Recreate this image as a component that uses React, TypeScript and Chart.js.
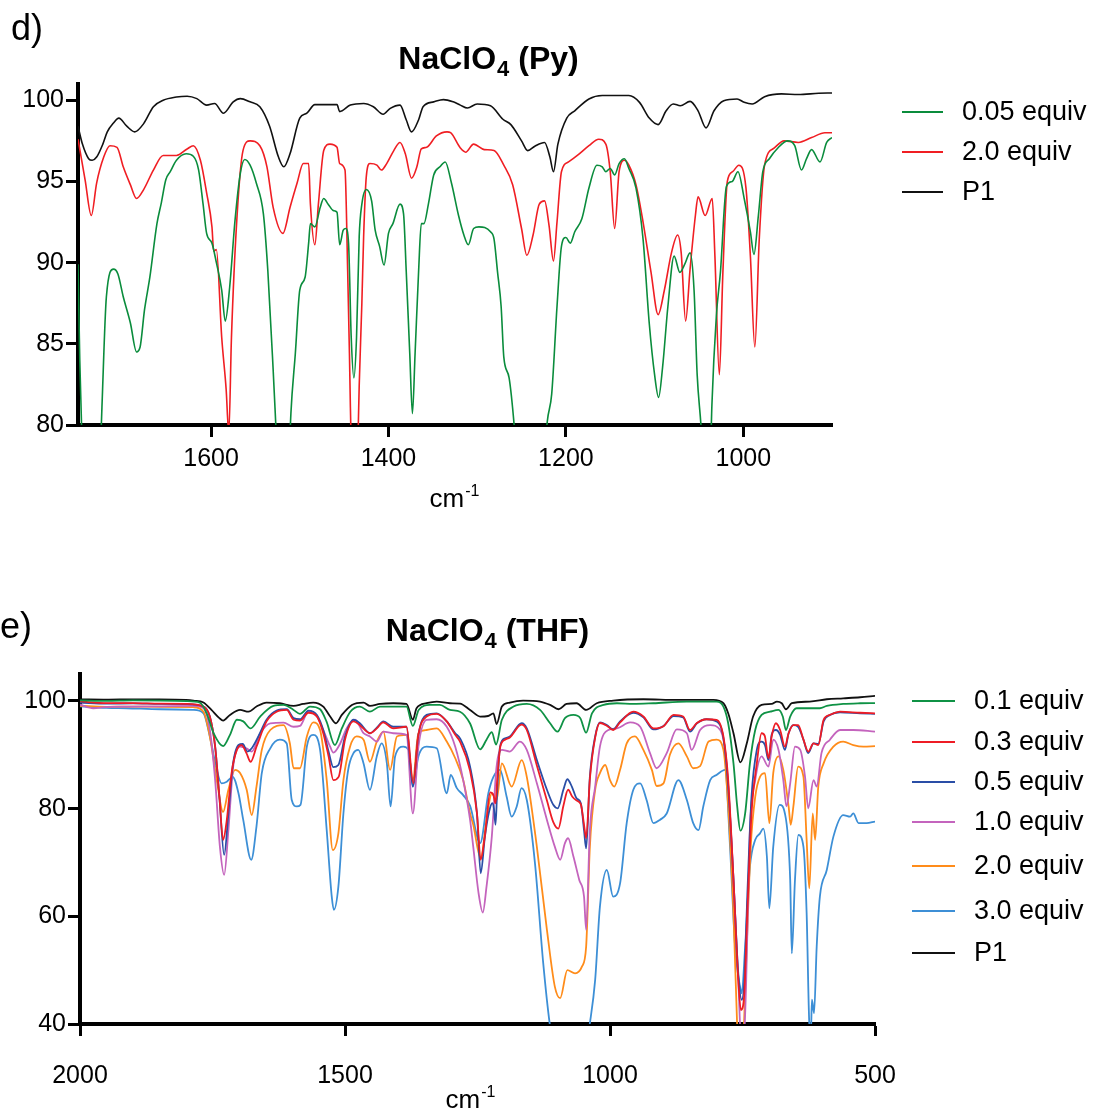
import React, { useEffect, useRef } from 'react';
import { Chart, registerables } from 'chart.js';

Chart.register(...registerables);

const FONT = '"Liberation Sans", Arial, Helvetica, sans-serif';

// ---------- Panel d: NaClO4 (Py) ----------
const PY_LABELS = ['0.05 equiv', '2.0 equiv', 'P1'];
const PY_COLORS = ['#0a8c3c', '#f01e23', '#111111'];
const PY_X_TICKS = [1600, 1400, 1200, 1000];
const PY_Y_TICKS = [80, 85, 90, 95, 100];

const PY_G: number[][] = [
  [1750, 89.9], [1748, 84], [1745, 78], [1738, 70], [1730, 72], [1725, 78], [1723, 81.1], [1718, 87.9], [1710, 89.6], [1705, 89.3],
  [1699, 87.9], [1691, 86.3], [1684, 84.5], [1680, 84.8], [1675, 87.1], [1669, 89.1], [1661, 92.4], [1656, 93.7], [1651, 95.1], [1646, 95.6],
  [1639, 96.3], [1628, 96.7], [1620, 96.55], [1614, 95.7], [1609, 93.6], [1605, 91.8], [1599, 91.2], [1594, 90.0], [1588, 88.3], [1584, 86.4],
  [1579, 88.5], [1573, 92.6], [1567, 95.5], [1562, 96.35], [1556, 96.0], [1549, 94.9], [1541, 93.0], [1536, 89.5], [1530, 83.4], [1527, 80.0],
  [1520, 72], [1514, 75], [1510, 80.7], [1505, 84.4], [1500, 88.3], [1494, 89.1], [1490, 91.2], [1488, 92.4], [1483, 92.2], [1477, 93.4],
  [1473, 93.95], [1468, 93.6], [1462, 93.2], [1458, 93.1], [1455, 91.1], [1451, 92.0], [1448, 92.1], [1445, 91.2], [1442, 85.4], [1439, 82.9],
  [1436, 85.4], [1433, 91.6], [1430, 93.6], [1425, 94.5], [1419, 93.8], [1415, 92.0], [1410, 91.0], [1405, 89.85], [1400, 91.8], [1395, 92.4],
  [1387, 93.6], [1383, 93.0], [1380, 89.5], [1376, 84.4], [1373, 80.7], [1370, 84.4], [1366, 89.5], [1363, 92.4], [1360, 92.4], [1355, 93.6],
  [1349, 95.4], [1342, 95.9], [1336, 96.2], [1329, 94.9], [1321, 92.9], [1315, 91.7], [1310, 91.1], [1304, 92.1], [1298, 92.2], [1285, 91.9],
  [1281, 91.45], [1277, 89.4], [1273, 87.3], [1270, 84.2], [1264, 82.9], [1258, 79.8], [1245, 70], [1232, 72], [1221, 80.2], [1216, 81.9],
  [1210, 87.3], [1205, 91.0], [1200, 91.55], [1195, 91.2], [1190, 91.9], [1182, 92.7], [1174, 94.6], [1165, 96.0], [1159, 95.9], [1155, 95.6],
  [1150, 95.8], [1145, 95.4], [1140, 96.1], [1134, 96.4], [1129, 95.8], [1121, 94.6], [1113, 91.45], [1106, 86.25], [1100, 83.1], [1095.5, 81.7],
  [1091, 83.55], [1085, 87.3], [1078, 90.4], [1071.5, 89.4], [1066, 89.9], [1060, 90.6], [1055.5, 88.3], [1052, 83.1], [1047.5, 79.8], [1042, 74],
  [1038, 76], [1035.4, 81.2], [1030.4, 86.7], [1025.8, 89.4], [1019, 94.7], [1012.5, 95.0], [1006, 95.6], [999, 93.95], [992, 91.9], [988, 90.5],
  [983, 92.9], [978, 95.6], [970.6, 96.4], [961, 97.06], [950, 97.5], [942, 97.2], [934.4, 95.7], [928.7, 96.4], [923, 96.96], [913.5, 96.2],
  [906, 97.4], [900, 97.7],
];

const PY_R: number[][] = [
  [1750, 97.6], [1742, 95.1], [1735, 92.9], [1729, 94.9], [1721, 96.5], [1714, 97.2], [1706, 97.1], [1699, 95.9], [1691, 94.8], [1684, 93.95],
  [1676, 94.5], [1665, 95.7], [1654, 96.6], [1639, 96.6], [1627, 97.0], [1620, 97.2], [1612, 96.3], [1605, 94.3], [1599, 92.2], [1597, 90.7],
  [1594, 90.8], [1588, 85.4], [1583, 82.2], [1580, 79.5], [1577, 85.4], [1571, 92.6], [1564, 96.9], [1556, 97.5], [1545, 97.2], [1537, 95.9],
  [1530, 93.4], [1519, 91.8], [1511, 93.4], [1503, 94.9], [1496, 96.1], [1490, 96.1], [1488, 93.6], [1483, 91.1], [1479, 93.6], [1473, 96.9],
  [1466, 97.3], [1458, 97.1], [1455, 96.1], [1449, 95.7], [1446, 89.5], [1444, 84.4], [1441, 76], [1437, 74], [1434, 80], [1433, 82.4],
  [1430, 87.5], [1428, 91.6], [1425, 95.3], [1421, 96.1], [1413, 96.0], [1408, 95.7], [1402, 96.1], [1394, 96.9], [1387, 97.4], [1381, 96.7],
  [1374, 95.2], [1368, 95.9], [1363, 97.0], [1357, 97.1], [1346, 97.8], [1334, 98.05], [1330, 98.0], [1319, 97.06], [1313, 96.8], [1304, 97.3],
  [1292, 96.96], [1281, 96.9], [1270, 96.0], [1260, 94.8], [1250, 92.1], [1244, 90.45], [1237, 91.7], [1230, 93.6], [1224, 93.8], [1219, 92.3],
  [1214, 90.1], [1210, 92.5], [1205, 95.6], [1197, 96.2], [1186, 96.65], [1174, 97.2], [1163, 97.6], [1155, 97.3], [1150, 95.6], [1145, 92.1],
  [1140, 95.6], [1134, 96.3], [1129, 96.0], [1121, 94.8], [1113, 92.5], [1104, 89.4], [1096, 86.8], [1089, 88.3], [1081, 90.6], [1074, 91.7],
  [1070, 90.6], [1065, 86.4], [1060, 89.6], [1054, 92.9], [1051, 94.05], [1043, 92.9], [1035, 93.95], [1032, 90.4], [1027, 83.1], [1023, 89.4],
  [1018, 95.0], [1012, 95.6], [1005, 96.0], [997, 94.6], [992, 90.4], [987, 84.8], [982, 91.45], [976, 96.0], [965, 97.06], [954, 97.5],
  [938, 97.4], [923, 97.7], [908, 98.0], [900, 98.0],
];

const PY_P1: number[][] = [
  [1750, 98.4], [1745, 97.3], [1738, 96.4], [1734, 96.3], [1729, 96.5], [1722, 97.3], [1717, 98.05], [1710, 98.6], [1704, 98.9], [1695, 98.4],
  [1686, 98.05], [1676, 98.56], [1665, 99.6], [1654, 100.0], [1639, 100.2], [1627, 100.25], [1616, 100.1], [1605, 99.7], [1596, 99.8], [1586, 99.2],
  [1575, 99.9], [1567, 100.1], [1556, 99.9], [1545, 99.6], [1534, 98.4], [1524, 96.5], [1518, 95.9], [1511, 96.7], [1500, 98.9], [1492, 99.2],
  [1483, 99.73], [1470, 99.73], [1458, 99.73], [1455, 99.3], [1443, 99.7], [1428, 99.8], [1417, 99.6], [1406, 99.14], [1398, 99.5], [1387, 99.7],
  [1380, 98.8], [1374, 98.05], [1366, 98.8], [1361, 99.6], [1349, 99.9], [1338, 100.04], [1327, 99.9], [1319, 99.7], [1311, 99.52], [1300, 99.77],
  [1285, 99.66], [1271, 98.83], [1262, 98.5], [1250, 97.5], [1243, 96.9], [1235, 97.17], [1224, 97.4], [1218, 96.5], [1214, 95.6], [1209, 97.3],
  [1199, 98.9], [1190, 99.35], [1174, 100.08], [1159, 100.29], [1129, 100.29], [1117, 99.87], [1106, 98.9], [1096, 98.5], [1087, 99.35], [1079, 99.77],
  [1071, 99.66], [1060, 99.93], [1051, 99.35], [1042, 98.3], [1033, 99.35], [1022, 99.97], [1007, 100.08], [999, 99.87], [990, 99.77], [976, 100.22],
  [957, 100.39], [938, 100.35], [915, 100.43], [900, 100.45],
];

// ---------- Panel e: NaClO4 (THF) ----------
const THF_LABELS = ['0.1 equiv', '0.3 equiv', '0.5 equiv', '1.0 equiv', '2.0 equiv', '3.0 equiv', 'P1'];
const THF_COLORS = ['#0f9245', '#ee1c25', '#2a4ea6', '#c464bd', '#ff8c1a', '#3d8fd6', '#111111'];
const THF_X_TICKS = [2000, 1500, 1000, 500];
const THF_Y_TICKS = [40, 60, 80, 100];

const THF_G: number[][] = [
  [2000, 100.1], [1950, 100.0], [1900, 100.1], [1849, 100.06], [1800, 99.95], [1774, 99.7], [1761, 97.7], [1748, 94.0], [1730, 91.6], [1717, 93.7],
  [1704, 96.5], [1692, 96.2], [1678, 94.9], [1660, 97.1], [1635, 99.07], [1616, 99.26], [1597, 98.33], [1585, 97.6], [1566, 98.95], [1547, 98.45],
  [1535, 96.2], [1519, 91.8], [1506, 94.9], [1490, 98.0], [1472, 98.95], [1453, 98.0], [1434, 98.95], [1409, 98.95], [1384, 98.95], [1372, 95.35],
  [1361, 98.33], [1340, 99.26], [1321, 99.26], [1302, 98.33], [1283, 98.0], [1264, 95.8], [1245, 91.0], [1233, 92.8], [1223, 94.2], [1215, 91.9],
  [1204, 96.5], [1182, 98.95], [1157, 99.44], [1132, 98.33], [1113, 95.85], [1099, 94.3], [1085, 96.8], [1069, 97.4], [1056, 96.8], [1045, 94.1],
  [1034, 97.7], [1012, 99.26], [987, 99.57], [956, 99.44], [918, 99.57], [855, 99.88], [799, 99.88], [786, 98.95], [777, 95.85], [767, 88.4],
  [760, 80.4], [754, 75.9], [745, 79.1], [736, 88.4], [726, 94.6], [714, 97.4], [698, 98.0], [682, 98.33], [674, 97.1], [668, 94.6],
  [660, 97.1], [648, 98.64], [629, 98.64], [604, 98.64], [591, 99.07], [560, 99.44], [528, 99.57], [500, 99.6],
];

const THF_R: number[][] = [
  [2000, 99.9], [1950, 99.6], [1900, 99.6], [1850, 99.5], [1800, 99.45], [1767, 98.95], [1755, 97.1], [1745, 91.5], [1737, 82.2], [1730, 74.2],
  [1723, 77.9], [1714, 86.6], [1704, 90.9], [1695, 91.8], [1686, 90.3], [1678, 88.7], [1667, 91.5], [1648, 96.2], [1629, 98.0], [1610, 98.33],
  [1597, 96.5], [1585, 96.35], [1569, 97.8], [1553, 97.1], [1541, 94.0], [1531, 89.7], [1522, 85.3], [1512, 85.9], [1500, 92.8], [1484, 96.2],
  [1472, 95.5], [1453, 94.0], [1440, 94.9], [1428, 96.0], [1409, 94.9], [1384, 95.2], [1371, 84.7], [1362, 93.4], [1346, 97.1], [1327, 97.6],
  [1308, 96.2], [1292, 93.7], [1283, 92.45], [1264, 87.0], [1251, 79.1], [1244, 70.5], [1236, 75.0], [1226, 83.0], [1220, 82.5], [1216, 81.0],
  [1213, 85.0], [1207, 91.5], [1198, 92.8], [1189, 93.2], [1167, 95.6], [1157, 94.6], [1138, 88.0], [1119, 81.5], [1107, 77.5], [1097.5, 76.3],
  [1088, 80.5], [1079, 83.5], [1071, 82.2], [1063, 81.5], [1055, 80.8], [1049, 77.0], [1045, 74.5], [1038, 85.5], [1028, 93.2], [1019, 95.9],
  [1006, 95.4], [994, 94.6], [981, 96.0], [956, 98.0], [937, 97.1], [918, 94.9], [899, 95.3], [880, 97.4], [862, 97.1], [849, 94.6],
  [836, 95.9], [818, 96.6], [799, 96.5], [786, 93.4], [777, 85.3], [767, 66.8], [758, 48.2], [753, 42.6], [747, 45.1], [741, 60.6],
  [733, 79.1], [723, 88.4], [714, 94.0], [708, 93.5], [701, 89.35], [695, 93.4], [687, 95.85], [679, 94.6], [670, 91.5], [663, 94.0],
  [654, 95.5], [645, 95.5], [635, 92.8], [626, 90.6], [616, 92.1], [607, 91.8], [597, 96.5], [585, 97.4], [566, 98.0], [528, 97.8],
  [500, 97.7],
];

const THF_B: number[][] = [
  [2000, 99.7], [1950, 99.5], [1900, 99.55], [1850, 99.45], [1800, 99.4], [1767, 98.95], [1755, 97.1], [1745, 91.5], [1737, 82.2], [1728, 71.4],
  [1720, 79.1], [1712, 87.8], [1701, 91.8], [1693, 92.0], [1684, 90.6], [1676, 91.2], [1663.5, 93.4], [1648, 96.5], [1629, 98.2], [1610, 98.45],
  [1597, 96.8], [1585, 96.6], [1569, 98.2], [1553, 97.4], [1541, 94.6], [1531, 90.6], [1522, 87.7], [1512.5, 88.1], [1500, 93.4], [1484, 96.5],
  [1472, 95.85], [1453, 94.0], [1440, 95.05], [1427.5, 96.2], [1409, 95.2], [1384, 95.2], [1372, 84.1], [1361.5, 93.7], [1346, 97.4], [1327, 97.7],
  [1308, 96.2], [1292, 94.0], [1283, 93.06], [1264, 87.8], [1251, 79.1], [1244, 68.0], [1236, 74.8], [1228, 79.5], [1222, 81.0], [1219, 80.0],
  [1216, 77.0], [1213, 83.0], [1207.5, 91.5], [1198, 93.06], [1189, 93.4], [1166.6, 95.85], [1157, 94.9], [1138, 89.0], [1119, 83.5], [1107, 80.7],
  [1098.7, 80.06], [1088, 83.5], [1080.5, 85.45], [1072, 84.1], [1063, 81.9], [1055, 81.0], [1049, 76.0], [1045, 72.6], [1038, 85.9], [1028, 93.4],
  [1019, 96.0], [1006, 95.5], [994, 94.7], [981, 96.2], [956, 97.8], [937, 96.96], [918, 94.7], [899, 95.35], [880, 97.2], [862, 96.96],
  [849, 94.3], [836, 95.85], [818, 96.6], [799, 96.2], [786, 93.06], [777, 84.1], [767, 66.8], [758, 49.4], [751.5, 44.5], [746.5, 48.2],
  [741, 63.6], [733, 82.2], [723, 90.9], [714, 92.45], [707.5, 91.8], [701, 89.0], [695, 93.7], [687, 94.6], [679, 93.7], [670, 90.9],
  [663, 94.0], [654, 95.5], [645, 95.2], [635, 92.8], [626, 90.3], [616, 92.1], [607, 92.0], [597, 96.2], [585, 97.4], [566, 97.9],
  [528, 97.7], [500, 97.6],
];

const THF_PU: number[][] = [
  [2000, 99.3], [1975, 98.64], [1950, 98.9], [1912, 98.95], [1850, 99.0], [1786, 99.07], [1767, 98.64], [1755, 94.6], [1745, 85.3], [1736, 72.9],
  [1728, 67.7], [1720, 76.0], [1711, 87.8], [1698, 91.5], [1686, 91.2], [1676, 90.6], [1660, 94.0], [1641, 95.85], [1616, 95.97], [1597, 95.2],
  [1585, 95.35], [1569, 98.0], [1553, 97.1], [1541, 94.6], [1528, 91.5], [1522, 90.4], [1509, 92.1], [1497, 94.9], [1481, 96.5], [1465, 94.0],
  [1453, 93.4], [1440, 92.45], [1427.5, 94.3], [1409, 94.0], [1384, 93.7], [1372, 79.1], [1361.5, 91.5], [1346, 96.5], [1327, 96.6], [1308, 95.2],
  [1292, 91.5], [1277, 85.3], [1264, 77.9], [1258, 72.9], [1248, 64.3], [1240, 60.7], [1233, 65.5], [1223, 74.8], [1214, 87.8], [1204, 90.9],
  [1189, 90.6], [1170, 92.45], [1157, 90.9], [1138, 84.7], [1119, 77.9], [1104, 72.9], [1094, 70.5], [1085, 73.6], [1079, 74.5], [1069, 71.1],
  [1058, 66.75], [1049, 63.65], [1045, 57.5], [1038, 76.0], [1028, 84.1], [1019, 91.5], [1003, 94.6], [987, 94.9], [962, 96.0], [943, 95.2],
  [924.5, 90.3], [912, 87.5], [893, 90.3], [874, 94.7], [855, 94.0], [846, 90.9], [830, 94.6], [811, 95.5], [792, 94.6], [780, 88.4],
  [768.5, 69.8], [758, 48.2], [752, 36], [748, 36], [743, 48.2], [736, 76.0], [726, 85.3], [714, 89.7], [701, 87.8], [692, 92.8],
  [682, 90.9], [673, 85.3], [667, 80.4], [660, 84.7], [651, 91.5], [641, 90.9], [632, 85.9], [626, 80.06], [616, 85.3], [610, 84.1],
  [601, 90.3], [585, 92.8], [566, 94.6], [541, 94.6], [500, 94.3],
];

const THF_O: number[][] = [
  [2000, 99.1], [1950, 98.9], [1912, 98.95], [1850, 98.9], [1786, 98.83], [1767, 98.0], [1755, 93.4], [1742, 85.3], [1730, 79.4], [1720, 83.5],
  [1707.5, 87.2], [1698, 86.6], [1685.5, 83.5], [1676, 78.8], [1667, 84.1], [1657, 90.9], [1641, 94.6], [1616, 95.5], [1604, 92.1], [1597, 87.5],
  [1585, 87.5], [1572, 93.4], [1560, 96.0], [1547, 94.6], [1534.5, 85.3], [1523, 72.3], [1512.5, 75.4], [1503, 85.3], [1490.5, 91.5], [1478, 93.4],
  [1465, 92.8], [1453, 88.7], [1440, 92.45], [1427.5, 94.3], [1415, 87.2], [1402, 93.4], [1384, 93.7], [1372, 85.3], [1361.5, 94.0], [1346, 94.6],
  [1327, 94.9], [1308, 92.45], [1292, 89.35], [1277, 85.3], [1264, 79.1], [1258, 77.0], [1244, 70.8], [1233, 77.9], [1223, 82.85], [1214, 81.6],
  [1204, 88.4], [1185.5, 84.1], [1166.6, 89.0], [1157, 85.9], [1138, 72.9], [1119, 57.5], [1104, 46.9], [1094, 44.8], [1080.5, 50.0], [1066, 49.4],
  [1053, 50.65], [1045, 54.4], [1038, 72.9], [1028, 83.5], [1019, 86.6], [1009, 88.1], [1000, 85.3], [992, 84.1], [981, 87.2], [968.5, 92.1],
  [953, 93.4], [937, 90.9], [921, 87.2], [912, 84.2], [899, 84.7], [887, 90.0], [871, 92.1], [855, 89.7], [843, 87.5], [830, 87.9],
  [814, 92.45], [799, 92.8], [786, 90.9], [777, 80.4], [767, 60.6], [760, 39.5], [755, 32], [749, 36], [742, 54.4], [734.5, 72.9],
  [726, 82.2], [717, 85.9], [707.5, 86.6], [699.3, 77.3], [692, 86.6], [682, 89.7], [673, 87.2], [663, 80.4], [659, 77.0], [654, 80.4],
  [645, 87.8], [635, 85.9], [629, 74.2], [624, 65.2], [617.5, 79.1], [613, 74.2], [607, 84.1], [597, 88.4], [578.5, 91.5], [560, 92.45],
  [541, 91.8], [522, 91.5], [500, 91.6],
];

const THF_LB: number[][] = [
  [2000, 99.0], [1950, 98.7], [1912, 98.64], [1849, 98.45], [1786, 98.33], [1767, 97.7], [1755, 93.4], [1742, 87.2], [1733, 84.7], [1723, 85.0],
  [1712, 85.9], [1701, 82.85], [1692, 77.9], [1677, 70.5], [1667, 76.7], [1657, 86.6], [1641, 91.2], [1623, 92.8], [1610, 92.1], [1600.5, 81.6],
  [1591, 80.4], [1584, 80.7], [1572, 91.5], [1560, 93.7], [1547, 90.9], [1534.5, 76.0], [1525, 63.65], [1521, 61.2], [1512.5, 65.5], [1503, 79.1],
  [1494, 87.2], [1484, 90.3], [1475, 90.9], [1465, 88.4], [1453, 83.5], [1440, 89.7], [1431, 92.1], [1421, 88.4], [1414, 80.4], [1405.5, 89.7],
  [1390, 91.5], [1380, 90.9], [1372, 84.1], [1361.5, 89.7], [1346, 91.5], [1327, 91.2], [1308, 82.85], [1300.5, 86.25], [1289, 83.8], [1277, 82.5],
  [1264, 80.5], [1245, 73.6], [1229.5, 82.85], [1220, 85.9], [1207.5, 87.2], [1195, 82.2], [1185.5, 78.5], [1176, 80.4], [1167, 83.8], [1157, 81.6],
  [1141.5, 69.8], [1126, 51.3], [1113, 39.5], [1095, 30], [1070, 28], [1050, 33], [1038, 40.1], [1028, 48.2], [1019, 61.8], [1006, 68.6],
  [994, 63.65], [981, 66.1], [968.5, 77.3], [956, 83.5], [943, 84.7], [931, 81.6], [918, 77.3], [906, 77.9], [893, 79.1], [871, 85.3],
  [855, 81.6], [843, 77.3], [833, 76.0], [824, 80.4], [811, 85.3], [799, 86.25], [783, 87.2], [773.5, 72.9], [764, 54.4], [754.6, 46.9],
  [751.5, 45.7], [745, 54.4], [736, 69.2], [726, 74.2], [717, 75.4], [710.7, 76.3], [704, 71.1], [699.4, 61.5], [692, 72.9], [680, 80.7],
  [670, 79.1], [660, 66.75], [657, 53.1], [651, 66.75], [644.6, 75.1], [635, 72.9], [629, 60.6], [624, 40.1], [621, 38], [619, 44.5],
  [615, 42.0], [610, 54.4], [604, 63.65], [591, 68.6], [578.5, 74.8], [560, 78.8], [547, 78.5], [541, 79.1], [531, 77.3], [516, 77.3],
  [500, 77.6],
];

const THF_P1: number[][] = [
  [2000, 100.3], [1950, 100.25], [1900, 100.3], [1850, 100.3], [1800, 100.2], [1786, 100.06], [1767, 99.7], [1752, 98.33], [1737, 96.8], [1730, 96.35],
  [1717, 97.4], [1698, 98.33], [1682, 98.0], [1667, 98.95], [1648, 99.7], [1623, 99.57], [1597, 99.07], [1579, 99.44], [1560, 99.7], [1541, 98.95],
  [1528, 97.1], [1517, 95.85], [1506, 97.4], [1487, 99.26], [1465, 99.7], [1453, 99.07], [1434, 99.44], [1409, 99.57], [1384, 99.44], [1372, 96.5],
  [1365, 98.64], [1346, 99.57], [1327, 99.88], [1302, 99.57], [1283, 99.5], [1264, 98.33], [1245, 97.1], [1230, 97.2], [1220, 97.7], [1214, 95.7],
  [1204, 98.95], [1189, 99.7], [1164, 100.06], [1132, 99.88], [1113, 99.26], [1097, 98.45], [1082, 99.44], [1063, 99.57], [1045, 98.33], [1025, 99.57],
  [994, 100.06], [937, 100.31], [874, 100.18], [805, 100.18], [786, 99.57], [777, 97.7], [767, 94.0], [754, 88.6], [742, 92.1], [730, 97.1],
  [714, 99.26], [695, 99.44], [685, 99.88], [676, 99.57], [668, 98.45], [657, 99.57], [623, 99.88], [591, 100.31], [560, 100.49], [528, 100.68],
  [500, 100.93],
];

type Decor = {
  letter: string; letterX: number; letterY: number;
  titleMain: string; titleSub: string; titleRest: string; titleX: number; titleY: number;
  axisX: number; axisY: number;
  legendX1: number; legendX2: number; legendTextX: number; legendY: number[];
};

const decorPlugin = {
  id: 'decor',
  afterDraw(chart: any) {
    const d: Decor = chart.config.options.decorCfg;
    if (!d) return;
    const ctx = chart.ctx as CanvasRenderingContext2D;
    ctx.save();
    ctx.fillStyle = '#000';
    ctx.textBaseline = 'alphabetic';
    ctx.textAlign = 'left';
    // panel letter
    ctx.font = `36px ${FONT}`;
    ctx.fillText(d.letter, d.letterX, d.letterY);
    // title with subscript
    const big = `bold 32px ${FONT}`;
    const small = `bold 22px ${FONT}`;
    ctx.font = big;
    const w1 = ctx.measureText(d.titleMain).width;
    const w3 = ctx.measureText(d.titleRest).width;
    ctx.font = small;
    const w2 = ctx.measureText(d.titleSub).width;
    let x = d.titleX - (w1 + w2 + w3) / 2;
    ctx.font = big;
    ctx.fillText(d.titleMain, x, d.titleY);
    x += w1;
    ctx.font = small;
    ctx.fillText(d.titleSub, x + 1, d.titleY + 7);
    x += w2 + 1;
    ctx.font = big;
    ctx.fillText(d.titleRest, x, d.titleY);
    // axis title cm-1
    const f1 = `26px ${FONT}`;
    const f2 = `16px ${FONT}`;
    ctx.font = f1;
    const a1 = ctx.measureText('cm').width;
    ctx.font = f2;
    const a2 = ctx.measureText('-1').width;
    const ax = d.axisX - (a1 + a2) / 2;
    ctx.font = f1;
    ctx.fillText('cm', ax, d.axisY);
    ctx.font = f2;
    ctx.fillText('-1', ax + a1 + 1, d.axisY - 11);
    // legend
    ctx.font = `27px ${FONT}`;
    ctx.textBaseline = 'middle';
    chart.data.datasets.forEach((ds: any, i: number) => {
      const y = d.legendY[i];
      ctx.strokeStyle = ds.borderColor;
      ctx.lineWidth = 2;
      ctx.beginPath();
      ctx.moveTo(d.legendX1, y);
      ctx.lineTo(d.legendX2, y);
      ctx.stroke();
      ctx.fillStyle = '#000';
      ctx.fillText(ds.label, d.legendTextX, y + 1);
    });
    ctx.restore();
  },
};

function toXY(arr: number[][]) {
  return arr.map(([x, y]) => ({ x, y }));
}

function makeConfig(opts: {
  series: number[][][]; labels: string[]; colors: string[]; lineWidth: number;
  xMin: number; xMax: number; xTicks: number[]; yMin: number; yMax: number; yTicks: number[];
  padding: any; yWidth: number; xHeight: number; xLabelPad: number; decor: Decor;
}) {
  return {
    type: 'line',
    data: {
      datasets: opts.series.map((s, i) => ({
        label: opts.labels[i],
        data: toXY(s),
        borderColor: opts.colors[i],
        backgroundColor: opts.colors[i],
        borderWidth: opts.lineWidth,
        pointRadius: 0,
        cubicInterpolationMode: 'monotone',
        fill: false,
      })),
    },
    options: {
      responsive: false,
      animation: false,
      events: [],
      decorCfg: opts.decor,
      layout: { padding: opts.padding },
      plugins: { legend: { display: false }, tooltip: { enabled: false }, title: { display: false } },
      scales: {
        x: {
          type: 'linear',
          reverse: true,
          min: opts.xMin,
          max: opts.xMax,
          afterBuildTicks: (s: any) => { s.ticks = opts.xTicks.map((v) => ({ value: v })); },
          afterFit: (s: any) => { s.height = opts.xHeight; },
          border: { display: true, width: 4, color: '#000' },
          grid: { display: true, drawOnChartArea: false, drawTicks: true, tickLength: 12, tickWidth: 3, tickColor: '#000' },
          ticks: {
            color: '#000', font: { family: FONT, size: 25 }, padding: opts.xLabelPad, maxRotation: 0, autoSkip: false,
            callback: (v: any) => String(v),
          },
        },
        y: {
          type: 'linear',
          min: opts.yMin,
          max: opts.yMax,
          afterBuildTicks: (s: any) => { s.ticks = opts.yTicks.map((v) => ({ value: v })); },
          afterFit: (s: any) => { s.width = opts.yWidth; },
          border: { display: true, width: 4, color: '#000' },
          grid: { display: true, drawOnChartArea: false, drawTicks: true, tickLength: 12, tickWidth: 3, tickColor: '#000' },
          ticks: { color: '#000', font: { family: FONT, size: 25 }, padding: 2, autoSkip: false, callback: (v: any) => String(v) },
        },
      },
    },
    plugins: [decorPlugin],
  } as any;
}

function ChartCanvas({ config, width, height, top }: { config: any; width: number; height: number; top: number }) {
  const ref = useRef<HTMLCanvasElement>(null);
  useEffect(() => {
    if (!ref.current) return;
    const chart = new Chart(ref.current, config);
    return () => chart.destroy();
  }, [config]);
  return (
    <canvas
      ref={ref}
      width={width}
      height={height}
      style={{ position: 'absolute', left: 0, top, width, height, display: 'block' }}
    />
  );
}

const pyConfig = makeConfig({
  series: [PY_G, PY_R, PY_P1],
  labels: PY_LABELS,
  colors: PY_COLORS,
  lineWidth: 1.6,
  xMin: 900, xMax: 1750, xTicks: PY_X_TICKS,
  yMin: 80, yMax: 101, yTicks: PY_Y_TICKS,
  padding: { left: 0, right: 262, top: 84, bottom: 0 },
  yWidth: 78, xHeight: 115, xLabelPad: 7,
  decor: {
    letter: 'd)', letterX: 11, letterY: 40,
    titleMain: 'NaClO', titleSub: '4', titleRest: ' (Py)', titleX: 488, titleY: 69,
    axisX: 454, axisY: 507,
    legendX1: 902, legendX2: 943, legendTextX: 962, legendY: [112, 152, 192],
  },
});

const thfConfig = makeConfig({
  series: [THF_G, THF_R, THF_B, THF_PU, THF_O, THF_LB, THF_P1],
  labels: THF_LABELS,
  colors: THF_COLORS,
  lineWidth: 1.8,
  xMin: 500, xMax: 2000, xTicks: THF_X_TICKS,
  yMin: 40, yMax: 105, yTicks: THF_Y_TICKS,
  padding: { left: 0, right: 219, top: 134, bottom: 0 },
  yWidth: 80, xHeight: 89, xLabelPad: 25,
  decor: {
    letter: 'e)', letterX: 0, letterY: 98,
    titleMain: 'NaClO', titleSub: '4', titleRest: ' (THF)', titleX: 487, titleY: 101,
    axisX: 470, axisY: 568,
    legendX1: 912, legendX2: 955, legendTextX: 974, legendY: [161, 202, 242, 282, 326, 371, 413],
  },
});

export default function App() {
  return (
    <div style={{ position: 'absolute', left: 0, top: 0, width: 1094, height: 1113, background: '#fff', overflow: 'hidden' }}>
      <ChartCanvas config={pyConfig} width={1094} height={540} top={0} />
      <ChartCanvas config={thfConfig} width={1094} height={573} top={540} />
    </div>
  );
}
